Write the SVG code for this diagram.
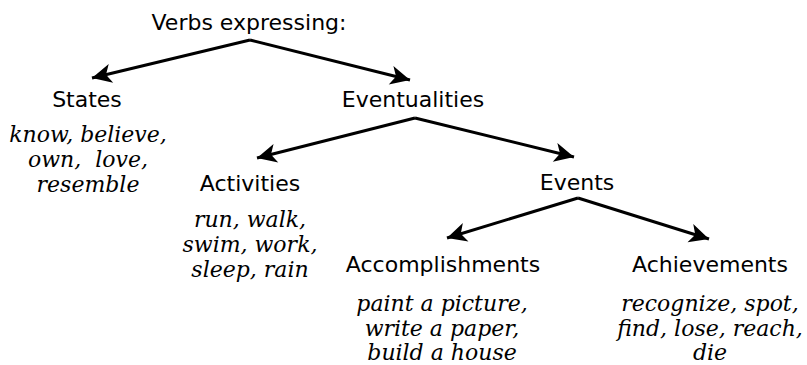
<svg xmlns="http://www.w3.org/2000/svg" width="807" height="365" viewBox="0 0 807 365">
<style>
.lbl{font-family:"DejaVu Sans",sans-serif;font-size:22px;fill:#000;text-anchor:middle}
.ex{font-family:"DejaVu Serif",serif;font-style:italic;font-size:22px;fill:#000;text-anchor:middle}
.c{fill:none;stroke:#000;stroke-width:3}
</style>
<defs>
<marker id="ah" markerWidth="8" markerHeight="8" viewBox="-1 -4 8 8" refX="6" refY="0" orient="auto" markerUnits="strokeWidth">
<path d="M6,0 L-0.5,-3.2 L1.2,0 L-0.5,3.2 Z" fill="#000"/>
</marker>
</defs>
<rect width="807" height="365" fill="#fff"/>
<g id="connectors">
<path class="c" d="M250,40 L92,78" marker-end="url(#ah)"/>
<path class="c" d="M250,40 L410,80" marker-end="url(#ah)"/>
<path class="c" d="M415,118 L257,158" marker-end="url(#ah)"/>
<path class="c" d="M415,118 L574,157" marker-end="url(#ah)"/>
<path class="c" d="M578,198 L447,238" marker-end="url(#ah)"/>
<path class="c" d="M578,198 L709,239" marker-end="url(#ah)"/>
</g>
<g id="root"><text class="lbl" x="249" y="30">Verbs expressing:</text></g>
<g id="states"><text class="lbl" x="87" y="107">States</text>
<text class="ex" x="88" y="142">know, believe,</text>
<text class="ex" x="88" y="167" xml:space="preserve">own,  love,</text>
<text class="ex" x="88" y="192">resemble</text></g>
<g id="eventualities"><text class="lbl" x="413" y="107">Eventualities</text></g>
<g id="activities"><text class="lbl" x="250" y="191">Activities</text>
<text class="ex" x="250" y="227">run, walk,</text>
<text class="ex" x="250" y="252">swim, work,</text>
<text class="ex" x="250" y="277">sleep, rain</text></g>
<g id="events"><text class="lbl" x="577" y="190">Events</text></g>
<g id="accomplishments"><text class="lbl" x="443" y="272">Accomplishments</text>
<text class="ex" x="442" y="311">paint a picture,</text>
<text class="ex" x="442" y="336">write a paper,</text>
<text class="ex" x="442" y="360">build a house</text></g>
<g id="achievements"><text class="lbl" x="710" y="272">Achievements</text>
<text class="ex" x="710" y="311">recognize, spot,</text>
<text class="ex" x="710" y="336">find, lose, reach,</text>
<text class="ex" x="710" y="360">die</text></g>
</svg>
